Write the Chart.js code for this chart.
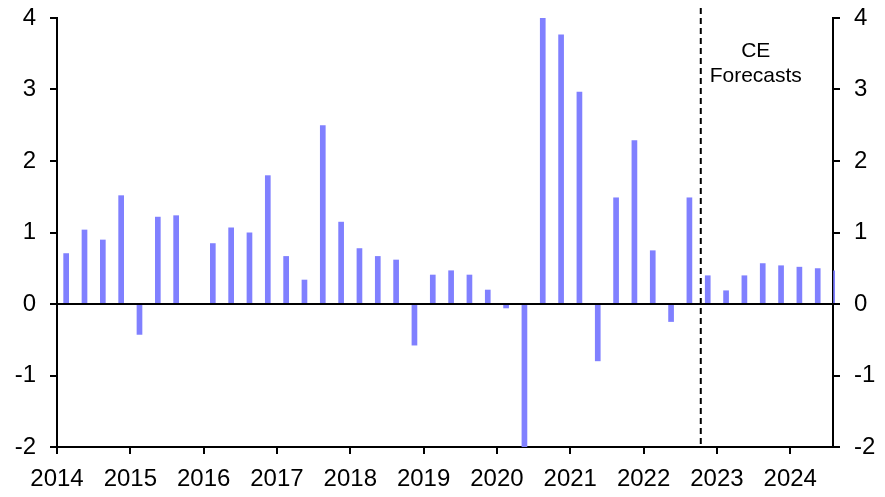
<!DOCTYPE html>
<html>
<head>
<meta charset="utf-8">
<script src="https://cdn.jsdelivr.net/npm/chart.js@4.4.1/dist/chart.umd.min.js"></script>
<style>
  html, body { margin: 0; padding: 0; background: #fff; }
  #wrap { width: 885px; height: 497px; position: relative; }
</style>
</head>
<body>
<div id="wrap"><canvas id="c"></canvas></div>
<script>
// ---- data ----
const quarters = [
  "2014 Q1","2014 Q2","2014 Q3","2014 Q4",
  "2015 Q1","2015 Q2","2015 Q3","2015 Q4",
  "2016 Q1","2016 Q2","2016 Q3","2016 Q4",
  "2017 Q1","2017 Q2","2017 Q3","2017 Q4",
  "2018 Q1","2018 Q2","2018 Q3","2018 Q4",
  "2019 Q1","2019 Q2","2019 Q3","2019 Q4",
  "2020 Q1","2020 Q2","2020 Q3","2020 Q4",
  "2021 Q1","2021 Q2","2021 Q3","2021 Q4",
  "2022 Q1","2022 Q2","2022 Q3","2022 Q4",
  "2023 Q1","2023 Q2","2023 Q3","2023 Q4",
  "2024 Q1","2024 Q2","2024 Q3"
];
const growth = [
  0.71, 1.04, 0.90, 1.52,
  -0.43, 1.22, 1.24, 0.00,
  0.85, 1.07, 1.00, 1.80,
  0.67, 0.34, 2.50, 1.15,
  0.78, 0.67, 0.62, -0.58,
  0.41, 0.47, 0.41, 0.20,
  -0.06, -2.00, 4.00, 3.77,
  2.97, -0.80, 1.49, 2.29,
  0.75, -0.25, 1.49, 0.40,
  0.19, 0.40, 0.57, 0.54,
  0.52, 0.50, 0.47
];
const yearTicks = [2014, 2015, 2016, 2017, 2018, 2019, 2020, 2021, 2022, 2023, 2024];
const yTicks = [-2, -1, 0, 1, 2, 3, 4];
const xMin = 2014;
const xMax = 2024 + 7 / 12;
const forecastStart = 2022.78;
const annotationLines = ["CE", "Forecasts"];

// position each quarter at its mid-point on a continuous year axis
const quarterPos = quarters.map(q => {
  const [yr, qq] = q.split(" Q");
  return Number(yr) + (Number(qq) - 0.5) / 4;
});
const points = growth.map((v, i) => ({ x: quarterPos[i], y: v }));

const FONT = '"Liberation Sans", Arial, Helvetica, sans-serif';

const overlay = {
  id: 'overlay',
  afterDatasetsDraw(chart) {
    const { ctx, chartArea, scales } = chart;
    const x = scales.x, y = scales.y;
    ctx.save();
    ctx.strokeStyle = '#000';
    ctx.lineWidth = 2;
    const y0 = Math.round(y.getPixelForValue(0));
    ctx.beginPath();
    ctx.moveTo(chartArea.left, y0);
    ctx.lineTo(chartArea.right, y0);
    ctx.stroke();

    const xf = x.getPixelForValue(forecastStart);
    ctx.setLineDash([6, 4]);
    ctx.beginPath();
    ctx.moveTo(xf, 8);
    ctx.lineTo(xf, chartArea.bottom);
    ctx.stroke();
    ctx.setLineDash([]);

    ctx.font = '21px ' + FONT;
    ctx.fillStyle = '#000';
    ctx.textAlign = 'center';
    ctx.textBaseline = 'middle';
    const xt = x.getPixelForValue(2023.53);
    ctx.fillText(annotationLines[0], xt, y.getPixelForValue(3.53));
    ctx.fillText(annotationLines[1], xt, y.getPixelForValue(3.18));
    ctx.restore();
  }
};

const yAxisCommon = {
  type: 'linear',
  min: -2,
  max: 4,
  z: 1,
  afterBuildTicks: s => { s.ticks = yTicks.map(v => ({ value: v })); },
  grid: { drawOnChartArea: false, color: '#000', lineWidth: 2, tickLength: 7 },
  border: { display: true, color: '#000', width: 2 },
  ticks: { color: '#000', font: { family: FONT, size: 24 }, padding: 14,
           callback: v => String(v) }
};

new Chart(document.getElementById('c'), {
  type: 'bar',
  data: {
    datasets: [{
      data: points,
      backgroundColor: '#8080ff',
      borderWidth: 0,
      categoryPercentage: 1,
      barPercentage: 0.31,
      clip: { left: 0, top: 0, right: 2, bottom: 0 }
    }]
  },
  options: {
    responsive: true,
    maintainAspectRatio: false,
    animation: false,
    devicePixelRatio: 1,
    layout: { padding: { top: 18, left: 0, right: 0, bottom: 0 } },
    plugins: { legend: { display: false }, tooltip: { enabled: false } },
    scales: {
      x: {
        type: 'linear',
        min: xMin,
        max: xMax,
        offset: false,
        z: 1,
        afterBuildTicks: s => { s.ticks = yearTicks.map(v => ({ value: v })); },
        afterFit: s => { s.height = 50; s.paddingLeft = 0; s.paddingRight = 0; },
        grid: { offset: false, drawOnChartArea: false, color: '#000', lineWidth: 2, tickLength: 7 },
        border: { display: true, color: '#000', width: 2 },
        ticks: { color: '#000', font: { family: FONT, size: 24 }, padding: 11,
                 maxRotation: 0, autoSkip: false, callback: v => String(v) }
      },
      y: Object.assign({}, yAxisCommon, {
        position: 'left',
        afterFit: s => { s.width = 57; s.paddingTop = 0; s.paddingBottom = 0; }
      }),
      y2: Object.assign({}, yAxisCommon, {
        position: 'right',
        afterFit: s => { s.width = 52; s.paddingTop = 0; s.paddingBottom = 0; }
      })
    }
  },
  plugins: [overlay]
});
</script>
</body>
</html>
